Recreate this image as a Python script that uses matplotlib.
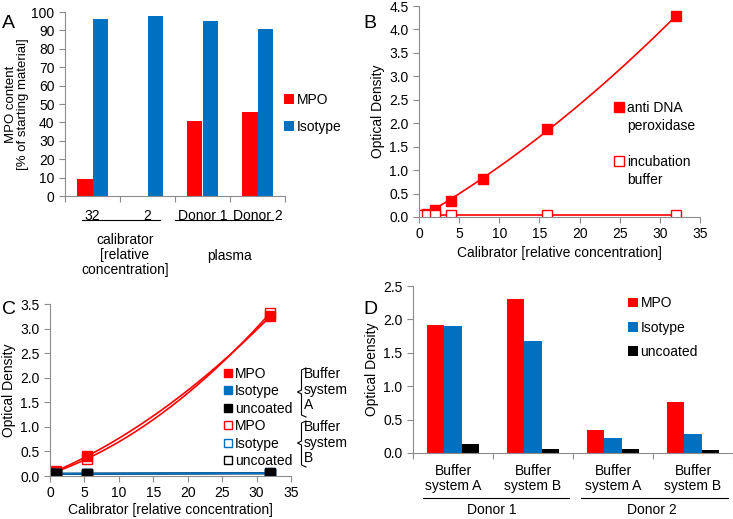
import numpy as np
import matplotlib
matplotlib.use('Agg')
import matplotlib.pyplot as plt
from matplotlib.lines import Line2D

plt.rcParams['font.family'] = ['Liberation Sans', 'DejaVu Sans']
plt.rcParams['font.size'] = 10

RED = '#FF0000'
BLUE = '#0070C0'
GREY = '#8C8C8C'

# panel A
a_cats = ['32', '2', 'Donor 1', 'Donor 2']
a_mpo = [9, 0, 41, 45.5]
a_iso = [96, 98, 95, 91]

# panel B
b_x = [0, 1, 2, 4, 8, 16, 32]
b_anti = [0.04, 0.06, 0.15, 0.35, 0.82, 1.88, 4.28]
b_x_buf = [0, 1, 2, 4, 16, 32]
b_buf = [0.05, 0.05, 0.05, 0.05, 0.05, 0.05]

# panel C
c_x = [0, 0.89, 5.33, 32]
c_mpo_a = [0.05, 0.1, 0.4, 3.25]
c_iso_a = [0.05, 0.05, 0.05, 0.06]
c_unc_a = [0.05, 0.05, 0.05, 0.06]
c_mpo_b = [0.05, 0.08, 0.35, 3.32]
c_iso_b = [0.04, 0.04, 0.05, 0.05]
c_unc_b = [0.04, 0.04, 0.05, 0.05]

# panel D
d_cats = ['Buffer\nsystem A', 'Buffer\nsystem B', 'Buffer\nsystem A', 'Buffer\nsystem B']
d_mpo = [1.91, 2.31, 0.35, 0.76]
d_iso = [1.90, 1.68, 0.23, 0.29]
d_unc = [0.14, 0.065, 0.06, 0.045]

W, H = 733, 519
fig = plt.figure(figsize=(W / 100, H / 100), dpi=100)


def box(x0, y0, x1, y1):
    return [x0 / W, 1 - y1 / H, (x1 - x0) / W, (y1 - y0) / H]


def style(ax):
    for s in ['top', 'right']:
        ax.spines[s].set_visible(False)
    for s in ['left', 'bottom']:
        ax.spines[s].set_color(GREY)
    ax.tick_params(colors=GREY, labelcolor='black', labelsize=10, length=4)


def trend(x, y, deg=2):
    c = np.polyfit(x, y, deg)
    xs = np.linspace(min(x), max(x), 200)
    return xs, np.polyval(c, xs)


fmt = matplotlib.ticker.FormatStrFormatter('%.1f')

# ---------- A ----------
ax = fig.add_axes(box(65, 12, 285, 196))
style(ax)
pos = np.arange(len(a_cats)) + 0.5
ax.bar(pos - 0.14, a_mpo, 0.28, color=RED, label='MPO')
ax.bar(pos + 0.14, a_iso, 0.28, color=BLUE, label='Isotype')
ax.set_xlim(0, 4)
ax.set_ylim(0, 100)
ax.set_yticks(range(0, 101, 10))
ax.set_xticks(range(5))
ax.set_xticklabels([])
ax.set_xticks(pos, minor=True)
ax.set_xticklabels(a_cats, minor=True)
ax.tick_params(axis='x', which='minor', length=0, pad=9)
ax.set_ylabel('MPO content\n[% of starting material]', fontsize=9.5,
              labelpad=2, linespacing=0.95)
ax.plot([0.31, 1.73], [-0.13, -0.13], color='black', lw=0.8,
        transform=ax.get_xaxis_transform(), clip_on=False)
ax.plot([2.0, 3.78], [-0.13, -0.13], color='black', lw=0.8,
        transform=ax.get_xaxis_transform(), clip_on=False)
ax.text(1.09, -0.2, 'calibrator\n[relative\nconcentration]', ha='center', va='top',
        transform=ax.get_xaxis_transform(), linespacing=1.1)
ax.text(3.0, -0.29, 'plasma', ha='center', va='top',
        transform=ax.get_xaxis_transform())
ax.legend(loc='upper left', bbox_to_anchor=(0.965, 0.60), frameon=False,
          handlelength=0.7, handleheight=0.7, handletextpad=0.2, labelspacing=0.95,
          borderpad=0)
fig.text(2 / W, 1 - 28 / H, 'A', fontsize=14)

# ---------- B ----------
ax = fig.add_axes(box(419, 6, 700, 217))
style(ax)
xs, ys = trend(b_x, b_anti)
ax.plot(xs, ys, color=RED, lw=1.2)
ax.plot(b_x_buf, b_buf, color=RED, lw=1.2)
ax.plot(b_x, b_anti, 's', color=RED, ms=6.5, ls='none')
ax.plot(b_x_buf, b_buf, 's', mfc='white', mec=RED, ms=6.5, ls='none')
ax.set_xlim(0, 35)
ax.set_ylim(0, 4.5)
ax.set_xticks(range(0, 36, 5))
ax.set_yticks(np.arange(0, 4.6, 0.5))
ax.yaxis.set_major_formatter(fmt)
ax.set_xlabel('Calibrator [relative concentration]', labelpad=3)
ax.set_ylabel('Optical Density', labelpad=3)
blank = Line2D([], [], ls='none')
hb = [Line2D([], [], marker='s', color=RED, ls='none', ms=7), blank, blank,
      Line2D([], [], marker='s', mfc='white', mec=RED, ls='none', ms=7), blank]
ax.legend(hb, ['anti DNA', 'peroxidase', '', 'incubation', 'buffer'],
          loc='upper left', bbox_to_anchor=(0.67, 0.582), frameon=False,
          handlelength=0.7, handletextpad=0.2, labelspacing=0.28, borderpad=0)
fig.text(363 / W, 1 - 28 / H, 'B', fontsize=14)

# ---------- C ----------
ax = fig.add_axes(box(50, 304, 291, 476))
style(ax)
for yv, col in [(c_unc_a, 'black'), (c_unc_b, 'black'), (c_iso_b, BLUE), (c_iso_a, BLUE)]:
    xs, ys = trend(c_x, yv, 1)
    ax.plot(xs, ys, color=col, lw=1.2)
for yv in [c_mpo_a, c_mpo_b]:
    xs, ys = trend(c_x, yv)
    ax.plot(xs, ys, color=RED, lw=1.2)
ax.plot(c_x, c_mpo_b, 's', mfc='white', mec=RED, ms=6.5)
ax.plot(c_x, c_mpo_a, 's', color=RED, ms=6.5)
ax.plot(c_x, c_iso_b, 's', mfc='white', mec=BLUE, ms=6.5)
ax.plot(c_x, c_iso_a, 's', color=BLUE, ms=6.5)
ax.plot(c_x, c_unc_b, 's', mfc='white', mec='black', ms=6.5)
ax.plot(c_x, c_unc_a, 's', color='black', ms=6.5)
ax.set_xlim(0, 35)
ax.set_ylim(0, 3.5)
ax.set_xticks(range(0, 36, 5))
ax.set_yticks(np.arange(0, 3.6, 0.5))
ax.yaxis.set_major_formatter(fmt)
ax.set_xlabel('Calibrator [relative concentration]', labelpad=2)
ax.set_ylabel('Optical Density', labelpad=3)
hc = [Line2D([], [], marker='s', color=c, ls='none', ms=6) for c in [RED, BLUE, 'black']]
hc += [Line2D([], [], marker='s', mfc='white', mec=c, ls='none', ms=6) for c in [RED, BLUE, 'black']]
ax.legend(hc, ['MPO', 'Isotype', 'uncoated'] * 2, loc='upper left',
          bbox_to_anchor=(0.693, 0.676), frameon=False, handlelength=0.6,
          handletextpad=0.2, labelspacing=0.25, borderpad=0)


def bracket(y0, ym, y1):
    xs = np.array([306, 301.5, 301.5, 297.5, 301.5, 301.5, 306])
    ys = np.array([y0, y0 + 2, ym - 2, ym, ym + 2, y1 - 2, y1])
    fig.add_artist(Line2D(xs / W, 1 - ys / H, color='black', lw=0.8))


bracket(368, 392, 417)
bracket(421, 443, 467)
fig.text(304 / W, 1 - 367 / H, 'Buffer\nsystem\nA', va='top', linespacing=1.15)
fig.text(304 / W, 1 - 420 / H, 'Buffer\nsystem\nB', va='top', linespacing=1.15)
fig.text(2 / W, 1 - 314 / H, 'C', fontsize=14)

# ---------- D ----------
ax = fig.add_axes(box(413, 286, 733, 453))
style(ax)
pos = np.arange(len(d_cats)) + 0.5
ax.bar(pos - 0.22, d_mpo, 0.22, color=RED, label='MPO')
ax.bar(pos, d_iso, 0.22, color=BLUE, label='Isotype')
ax.bar(pos + 0.22, d_unc, 0.22, color='black', label='uncoated')
ax.set_xlim(0, 4)
ax.set_ylim(0, 2.5)
ax.set_yticks(np.arange(0, 2.6, 0.5))
ax.yaxis.set_major_formatter(fmt)
ax.set_xticks(range(5))
ax.set_xticklabels([])
ax.set_xticks(pos, minor=True)
ax.set_xticklabels(d_cats, minor=True, linespacing=1.1)
ax.tick_params(axis='x', which='minor', length=0, pad=8)
ax.set_ylabel('Optical Density', labelpad=3)
ax.plot([0.125, 1.95], [-0.269, -0.269], color='black', lw=0.8,
        transform=ax.get_xaxis_transform(), clip_on=False)
ax.plot([2.1, 3.94], [-0.269, -0.269], color='black', lw=0.8,
        transform=ax.get_xaxis_transform(), clip_on=False)
ax.text(0.98, -0.3, 'Donor 1', ha='center', va='top', transform=ax.get_xaxis_transform())
ax.text(2.98, -0.3, 'Donor 2', ha='center', va='top', transform=ax.get_xaxis_transform())
ax.legend(loc='upper left', bbox_to_anchor=(0.65, 0.98), frameon=False,
          handlelength=0.7, handleheight=0.7, handletextpad=0.2, labelspacing=0.75,
          borderpad=0)
fig.text(363 / W, 1 - 314 / H, 'D', fontsize=14)

fig.savefig('out.png', dpi=100)
